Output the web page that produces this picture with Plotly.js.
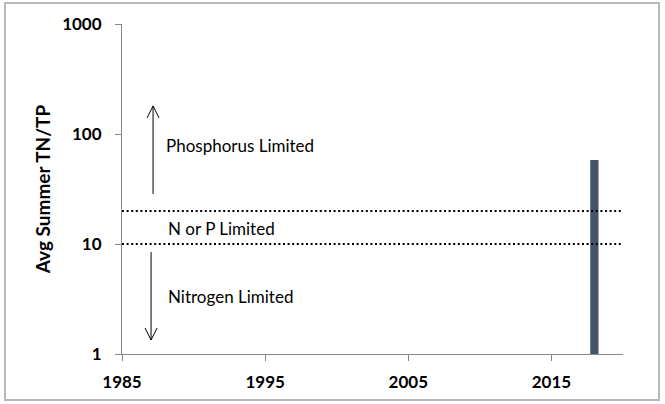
<!DOCTYPE html>
<html>
<head>
<meta charset="utf-8">
<script src="https://cdn.plot.ly/plotly-3.0.1.min.js"></script>
<style>html,body{margin:0;padding:0;background:#fff;}#chart{width:665px;height:404px;}</style>
</head>
<body>
<div id="chart"></div>
<script>
// Data
var years = [2018];
var ratioValues = [58];
var thresholdUpper = 20;
var thresholdLower = 10;
var xTickVals = [1985, 1995, 2005, 2015];
var xTickText = ['1985', '1995', '2005', '2015'];
var yTickVals = [1, 10, 100, 1000];
var yTickText = ['1', '10', '100', '1000'];
var xRange = [1985, 2020];
var regionLabels = ['Phosphorus Limited', 'N or P Limited', 'Nitrogen Limited'];

var FONT = 'Lato, "Open Sans", sans-serif';

// Arrow geometry (decorative, in axis units)
var upArrow = {x: 1987.17, tail: 28.5, head: 180};
var downArrow = {x: 1987.03, tail: 8.45, head: 1.34};

var traces = [
  {
    type: 'bar', x: years, y: ratioValues, width: 0.58,
    marker: {color: '#44546a'}, hoverinfo: 'skip', showlegend: false
  },
  {
    type: 'scatter', mode: 'lines', x: xRange, y: [thresholdUpper, thresholdUpper],
    line: {color: '#000', width: 2, dash: '2px,2.6px'}, hoverinfo: 'skip', showlegend: false
  },
  {
    type: 'scatter', mode: 'lines', x: xRange, y: [thresholdLower, thresholdLower],
    line: {color: '#000', width: 2, dash: '2px,2.6px'}, hoverinfo: 'skip', showlegend: false
  }
];

var layout = {
  width: 665, height: 404,
  margin: {l: 122, r: 42, t: 24, b: 50},
  paper_bgcolor: '#fff', plot_bgcolor: '#fff',
  font: {family: FONT, color: '#000'},
  xaxis: {
    range: xRange, tickvals: xTickVals, ticktext: xTickText,
    showgrid: false, zeroline: false, showline: true, linecolor: '#868686', linewidth: 1,
    ticks: 'outside', ticklen: 6, tickcolor: '#868686',
    tickfont: {family: FONT, size: 17, weight: 'bold', color: '#000'},
    ticklabelstandoff: 7
  },
  yaxis: {
    type: 'log', range: [0, 3], tickvals: yTickVals, ticktext: yTickText,
    showgrid: false, zeroline: false, showline: true, linecolor: '#868686', linewidth: 1,
    ticks: 'outside', ticklen: 6, tickcolor: '#868686',
    tickfont: {family: FONT, size: 17, weight: 'bold', color: '#000'},
    ticklabelstandoff: 10,
    title: {text: 'Avg Summer TN/TP', font: {family: FONT, size: 19, weight: 'bold', color: '#000'}, standoff: 6}
  },
  shapes: [
    {type: 'rect', xref: 'paper', yref: 'paper',
     x0: (5 - 122) / 501, x1: (659 - 122) / 501, y0: (354 - 400) / 330, y1: (354 - 3) / 330,
     line: {color: '#b8b8b8', width: 2}, fillcolor: 'rgba(0,0,0,0)'},
    // arrow shafts
    {type: 'line', xref: 'x', yref: 'y', x0: upArrow.x, x1: upArrow.x, y0: upArrow.tail, y1: upArrow.head,
     line: {color: '#000', width: 1}},
    {type: 'line', xref: 'x', yref: 'y', x0: downArrow.x, x1: downArrow.x, y0: downArrow.tail, y1: downArrow.head,
     line: {color: '#000', width: 1}},
    // open V arrowheads
    {type: 'path', xref: 'x', yref: 'y', xsizemode: 'pixel', ysizemode: 'pixel',
     xanchor: upArrow.x, yanchor: upArrow.head, path: 'M-6,-12 L0,0 L6,-12',
     line: {color: '#000', width: 1}, fillcolor: 'rgba(0,0,0,0)'},
    {type: 'path', xref: 'x', yref: 'y', xsizemode: 'pixel', ysizemode: 'pixel',
     xanchor: downArrow.x, yanchor: downArrow.head, path: 'M-6,12 L0,0 L6,12',
     line: {color: '#000', width: 1}, fillcolor: 'rgba(0,0,0,0)'}
  ],
  annotations: [
    {x: 1987.9, y: 1.891, xref: 'x', yref: 'y', xanchor: 'left', yanchor: 'middle', showarrow: false,
     text: regionLabels[0], font: {family: FONT, size: 17, color: '#000'}},
    {x: 1988.05, y: 1.145, xref: 'x', yref: 'y', xanchor: 'left', yanchor: 'middle', showarrow: false,
     text: regionLabels[1], font: {family: FONT, size: 17, color: '#000'}},
    {x: 1988.1, y: 0.527, xref: 'x', yref: 'y', xanchor: 'left', yanchor: 'middle', showarrow: false,
     text: regionLabels[2], font: {family: FONT, size: 17, color: '#000'}}
  ]
};

Plotly.newPlot('chart', traces, layout, {staticPlot: true, displayModeBar: false});
</script>
</body>
</html>
